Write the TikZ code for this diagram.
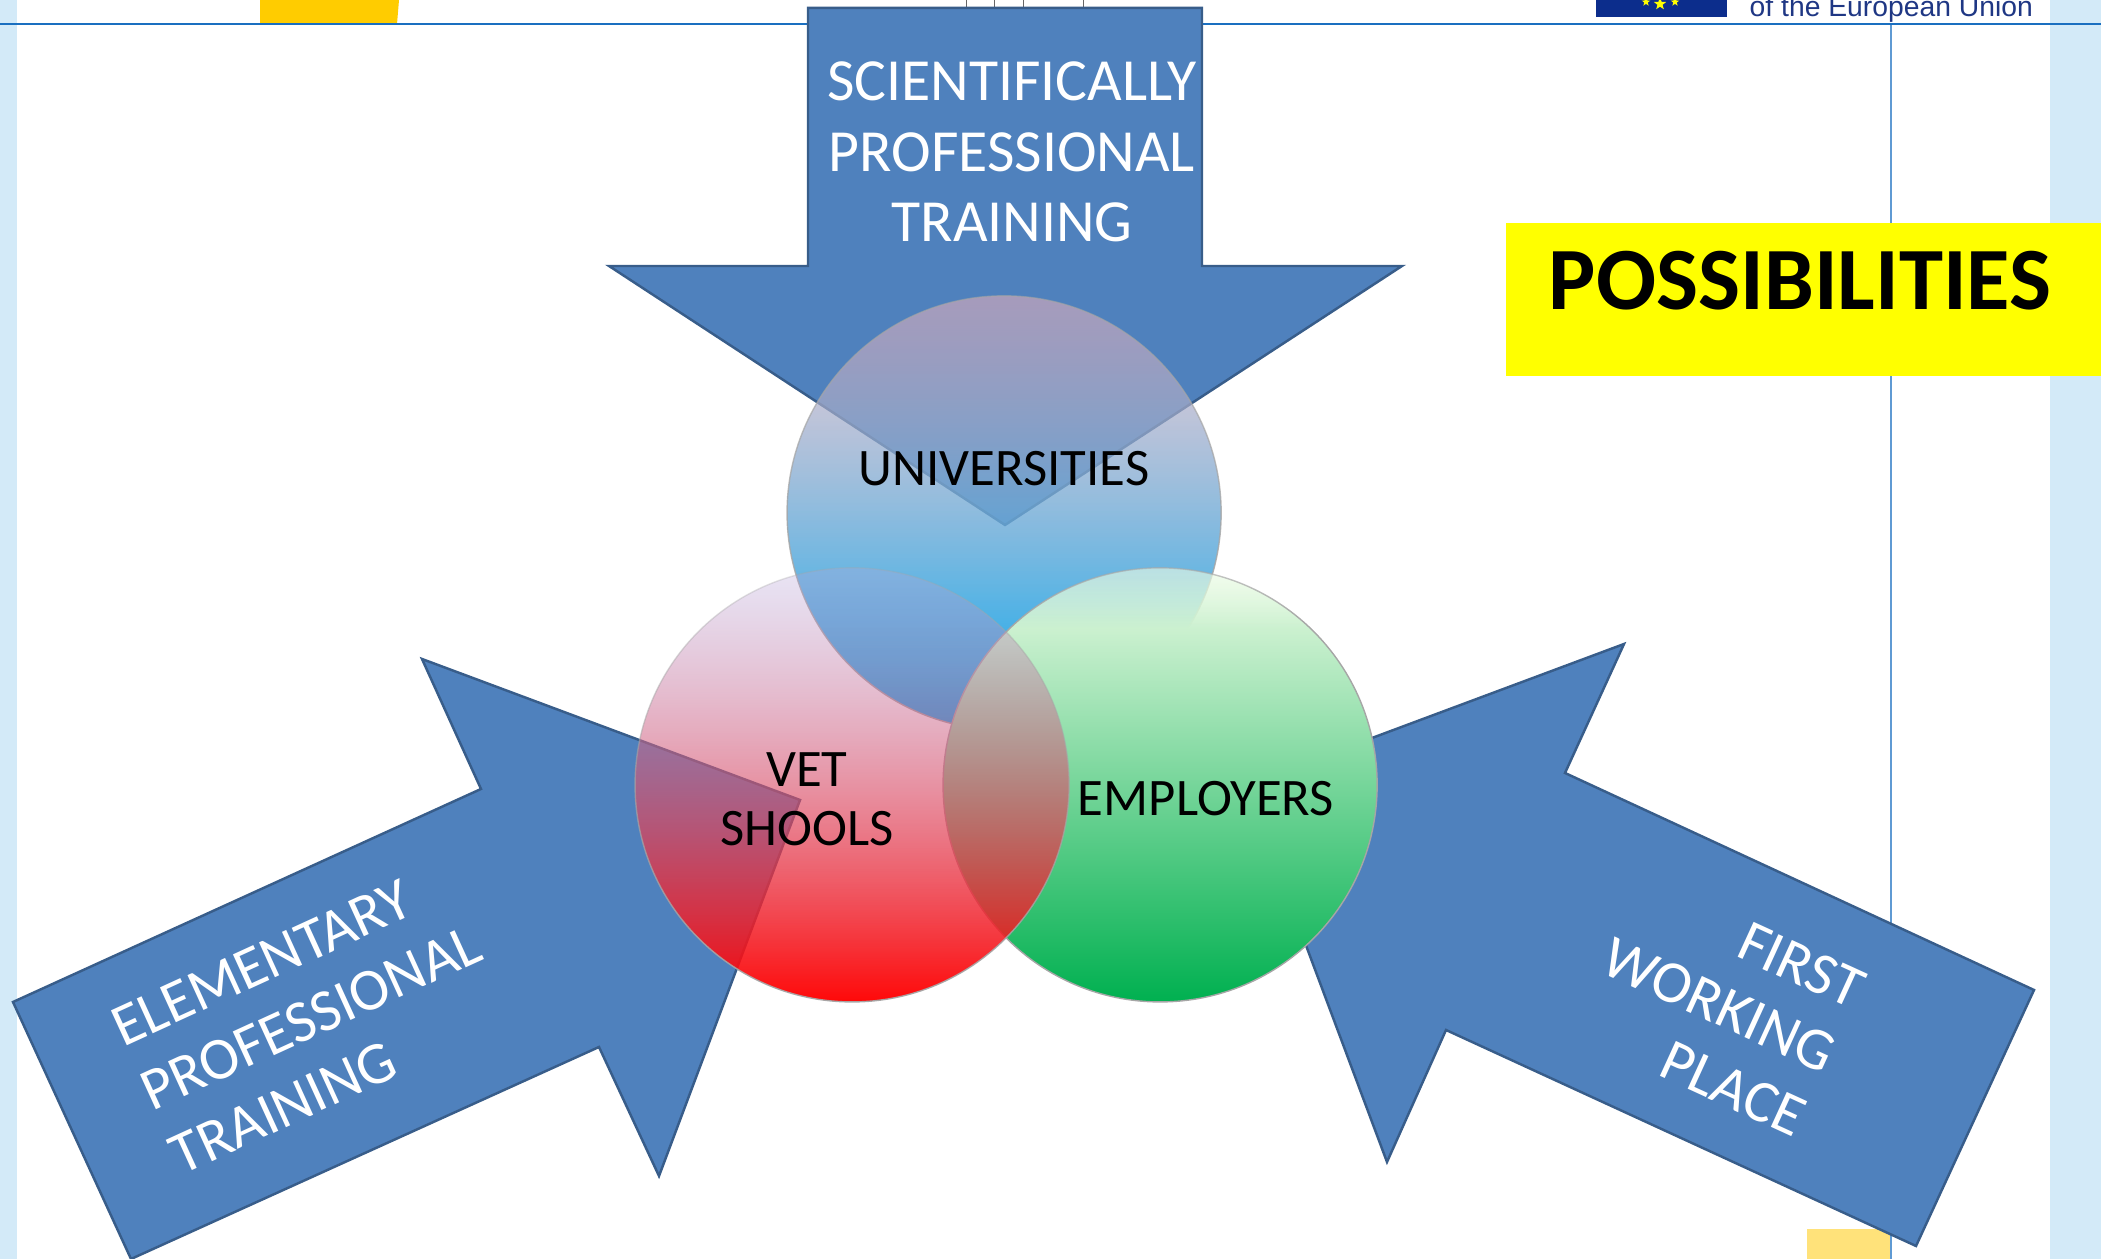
\documentclass[tikz,border=0pt]{standalone}
\usepackage{fontspec}
\setmainfont{Carlito}
\newfontfamily\eufont{Liberation Sans}
\usetikzlibrary{fadings,shapes.geometric}

\definecolor{arrowfill}{HTML}{4F81BD}
\definecolor{arrowline}{HTML}{385D8A}
\definecolor{stripblue}{HTML}{D3EAF8}
\definecolor{ruleblue}{HTML}{1A6FC0}
\definecolor{eublue}{HTML}{0C2D8C}
\definecolor{eutext}{HTML}{1F3784}
\definecolor{sunyellow}{HTML}{FFCC00}
\definecolor{paleyellow}{HTML}{FFE27A}
\definecolor{boxyellow}{HTML}{FFFF00}
\definecolor{unitop}{HTML}{E1ADBB}
\definecolor{unimid}{HTML}{9CC8DE}
\definecolor{unibot}{HTML}{00A8F0}
\definecolor{vettop}{HTML}{B4A7DC}
\definecolor{vetmid}{HTML}{E85068}
\definecolor{vetbot}{HTML}{FF0000}
\definecolor{emptop}{HTML}{ECFBE4}
\definecolor{empmid}{HTML}{80D8A0}
\definecolor{empbot}{HTML}{00B050}

\tikzfading[name=unifade, top color=transparent!40, middle color=transparent!35, bottom color=transparent!0]
\tikzfading[name=vetfade, top color=transparent!70, middle color=transparent!45, bottom color=transparent!3]
\pgfdeclareverticalshading{empramp}{100bp}{color(0bp)=(pgftransparent!0); color(68bp)=(pgftransparent!0); color(75bp)=(pgftransparent!40); color(100bp)=(pgftransparent!40)}
\pgfdeclarefading{empfade}{\pgfuseshading{empramp}}

\begin{document}
\begin{tikzpicture}
[font=\fontsize{17}{20}\selectfont,
% STYLES
% The flow style is used to draw the big arrows
flow/.style={fill=arrowfill, draw=arrowline, line width=0.7pt, line join=miter},
% The flowtext style is used to write on the arrows
flowtext/.style={text=white, inner sep=0pt},
% The sector style is used to draw the circles
sector/.style={circle, draw=black!35, line width=0.4pt, minimum size=4.34cm, inner sep=0pt},
% The sectortext style is used to write on the circles
sectortext/.style={text=black, inner sep=0pt, font=\fontsize{15}{16.8}\selectfont},
eustar/.style={star, star points=5, star point ratio=2.4, fill=boxyellow, inner sep=0pt}]

\useasboundingbox (0,0) rectangle (21.01,12.59);

% Page furniture
\fill[stripblue] (0,0) rectangle (0.17,12.59);
\fill[stripblue] (20.50,0) rectangle (21.01,12.59);
\fill[sunyellow] (2.60,12.35) -- (2.60,12.59) -- (3.99,12.59) -- (3.97,12.35) -- cycle;
\fill[eublue] (15.96,12.42) rectangle (17.27,12.59);
\node[eustar, minimum size=0.09cm] (star-left) at (16.46,12.57) {};
\node[eustar, minimum size=0.13cm] (star-mid) at (16.60,12.55) {};
\node[eustar, minimum size=0.09cm] (star-right) at (16.75,12.57) {};
\node[inner sep=0pt, anchor=base west, text=eutext, font=\eufont\fontsize{8.05}{10}\selectfont] (eutext) at (17.49,12.42) {of the European Union};
\draw[black!60, line width=0.2pt] (9.66,12.59) -- (9.66,12.45) (9.94,12.59) -- (9.94,12.45) (10.23,12.59) -- (10.23,12.45) (10.83,12.59) -- (10.83,12.45);
\fill[paleyellow] (18.07,0) rectangle (18.91,0.30);
\draw[ruleblue!70, line width=0.4pt] (18.91,0) -- (18.91,12.35);
\draw[ruleblue, line width=0.6pt] (0,12.35) -- (21.01,12.35);
\node[fill=boxyellow, inner sep=0pt, minimum width=5.96cm, minimum height=1.53cm, anchor=south west] (possibilities-box) at (15.05,8.82) {};
\node[inner sep=0pt, font=\bfseries\fontsize{25.3}{30}\selectfont] (possibilities) at (18.0,9.78) {POSSIBILITIES};

% Draw the arrows
\draw[flow] (8.08,12.51) -- (12.02,12.51) -- (12.02,9.93) -- (14.02,9.93) -- (10.05,7.34) -- (6.09,9.93) -- (8.08,9.93) -- cycle;
\draw[flow] (0.13,2.57) -- (4.81,4.70) -- (4.22,6.00) -- (8.00,4.59) -- (6.59,0.83) -- (5.99,2.12) -- (1.31,0) -- cycle;
\draw[flow] (20.34,2.69) -- (15.65,4.86) -- (16.24,6.15) -- (12.46,4.74) -- (13.87,0.97) -- (14.46,2.29) -- (19.16,0.13) -- cycle;

% Arrow texts
\node[flowtext, align=center] (science) at (10.12,11.07) {SCIENTIFICALLY\\PROFESSIONAL\\TRAINING};
\node[flowtext, align=left, rotate=24.6] (elementary) at (3.11,2.41) {ELEMENTARY\\PROFESSIONAL\\TRAINING};
\node[flowtext, align=right, rotate=-24.6] (firstplace) at (17.19,2.54) {FIRST\\WORKING\\PLACE};

% Draw the circles
\node[sector, top color=unitop, middle color=unimid, bottom color=unibot, path fading=unifade] (universities) at (10.04,7.46) {};
\node[sector, top color=emptop, middle color=empmid, bottom color=empbot, path fading=empfade] (employers) at (11.60,4.74) {};
\node[sector, top color=vettop, middle color=vetmid, bottom color=vetbot, path fading=vetfade] (vet) at (8.52,4.74) {};

% Circle texts
\node[sectortext] (universities-text) at (10.04,7.90) {UNIVERSITIES};
\node[sectortext, align=center] (vet-text) at (8.07,4.60) {VET\\SHOOLS};
\node[sectortext] (employers-text) at (12.06,4.60) {EMPLOYERS};
\end{tikzpicture}
\end{document}
